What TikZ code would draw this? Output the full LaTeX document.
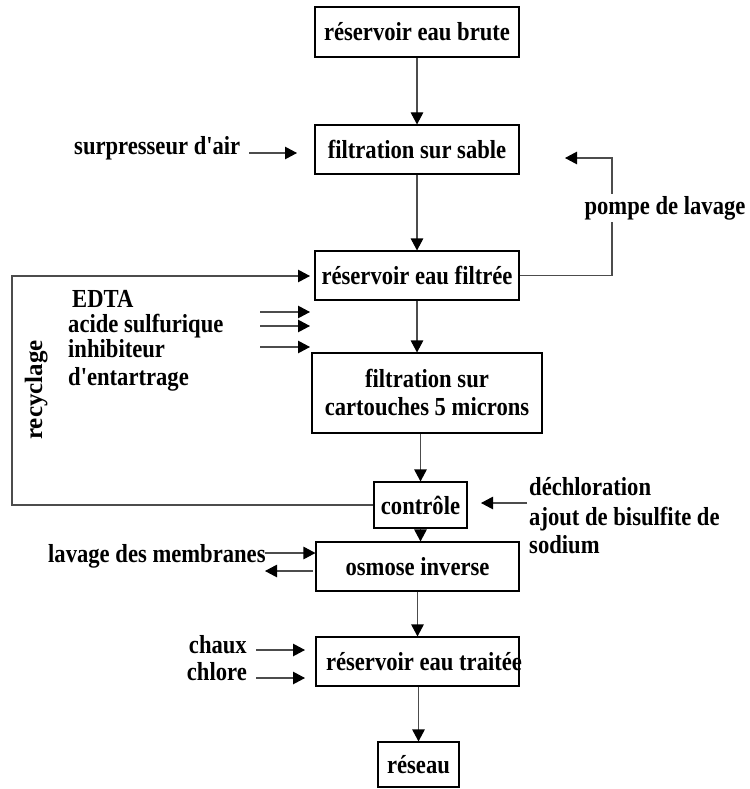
\documentclass[tikz,border=0pt]{standalone}
\usepackage{fontspec}
\setmainfont{Liberation Serif}[FakeStretch=0.87,Ligatures=TeXOff]
\newfontfamily\plainserif{Liberation Serif}[Ligatures=TeXOff]
\usetikzlibrary{arrows.meta}
\begin{document}
\begin{tikzpicture}[x=1pt,y=-1pt,
  every node/.style={font=\fontsize{26}{28}\selectfont\bfseries, inner sep=0pt},
  box/.style={draw=black, line width=1.1pt, rectangle, align=center},
  lbl/.style={anchor=base west},
  conn/.style={draw=black!70, line width=1.1pt},
  arr/.style={conn, -{Triangle[length=12pt,width=12.5pt,color=black]}}
]
\useasboundingbox (0,0) rectangle (749,789);
% boxes
\node[box, minimum width=204pt, minimum height=50pt] (b1) at (417,32) {réservoir eau brute};
\node[box, minimum width=204pt, minimum height=49pt] (b2) at (417,149.5) {filtration sur sable};
\node[box, minimum width=204pt, minimum height=49pt] (b3) at (417,275.5) {réservoir eau filtrée};
\node[box, minimum width=230pt, minimum height=80pt] (b4) at (427,393) {filtration sur\\cartouches 5 microns};
\node[box, minimum width=93pt, minimum height=46pt] (ctrl) at (420.5,505) {contrôle};
\node[box, minimum width=203pt, minimum height=49pt] (osm) at (417.5,566.5) {osmose inverse};
\node[box, minimum width=203pt, minimum height=49pt] (b5) at (417.5,661.5) {};
\node[anchor=center] (b5t) at (424,661.5) {réservoir eau traitée};
\node[box, minimum width=81pt, minimum height=45pt] (res) at (418.5,764.5) {réseau};
% main flow
\draw[arr] (b1.south) -- (b2.north);
\draw[arr] (b2.south) -- (b3.north);
\draw[arr] (b3.south) -- (b3.south |- b4.north);
\draw[arr] (b4.south -| ctrl.north) -- (ctrl.north);
\draw[arr] (ctrl.south) -- (ctrl.south |- osm.north);
\draw[arr] (osm.south -| b5.north) -- (b5.north);
\draw[arr] (b5.south -| res.north) -- (res.north);
% surpresseur
\node[lbl] (sup) at (74,154) {surpresseur d'air};
\coordinate (sup1) at (249,153);
\coordinate (sup2) at (297,153);
\draw[arr] (sup1) -- (sup2);
% pompe de lavage
\coordinate (p1) at (612,275.5);
\coordinate (p2) at (612,158);
\coordinate (p3) at (565,158);
\draw[arr] (b3.east) -- (p1) -- (p2) -- (p3);
\node[anchor=base, fill=white, inner ysep=2pt, inner xsep=1pt] (pompe) at (665,214) {pompe de lavage};
% recyclage
\coordinate (r1) at (12,505);
\coordinate (r2) at (12,276);
\coordinate (r3) at (310,276);
\draw[arr] (ctrl.west) -- (r1) -- (r2) -- (r3);
\node[rotate=90, anchor=base, font=\plainserif\fontsize{25}{27}\selectfont\bfseries] (recy) at (42,390) {recyclage};
% chemicals
\node[lbl] (edta) at (72,307) {EDTA};
\node[lbl] (acide) at (68,332) {acide sulfurique};
\node[lbl] (inhib) at (68,357) {inhibiteur};
\node[lbl] (entar) at (68,385) {d'entartrage};
\coordinate (e1) at (260,312); \coordinate (e2) at (310,312);
\coordinate (a1) at (260,326); \coordinate (a2) at (310,326);
\coordinate (i1) at (260,347); \coordinate (i2) at (310,347);
\draw[arr] (e1) -- (e2);
\draw[arr] (a1) -- (a2);
\draw[arr] (i1) -- (i2);
% dechloration
\node[lbl] (dech) at (529,495) {déchloration};
\node[lbl] (ajout) at (529,525) {ajout de bisulfite de};
\node[lbl] (sod) at (529,553) {sodium};
\coordinate (d1) at (527,503);
\coordinate (d2) at (481,503);
\draw[arr] (d1) -- (d2);
% lavage des membranes
\node[lbl] (lav) at (48,562) {lavage des membranes};
\coordinate (l1) at (265,553);
\coordinate (l2) at (313,571);
\coordinate (l3) at (265,571);
\draw[arr] (l1) -- (l1 -| osm.west);
\draw[arr] (l2) -- (l3);
% chaux chlore
\node[anchor=base east] (chaux) at (247,653) {chaux};
\node[anchor=base east] (chlore) at (247,680) {chlore};
\coordinate (c1) at (256,650); \coordinate (c2) at (305,650);
\coordinate (h1) at (256,678); \coordinate (h2) at (305,678);
\draw[arr] (c1) -- (c2);
\draw[arr] (h1) -- (h2);
\end{tikzpicture}
\end{document}
